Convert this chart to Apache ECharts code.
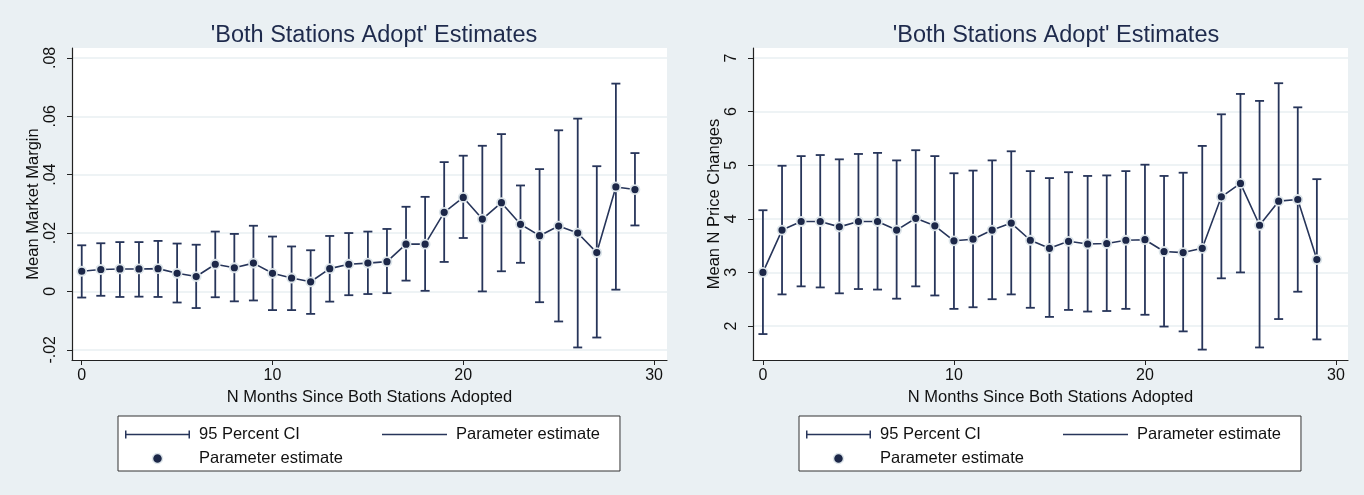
<!DOCTYPE html>
<html>
<head>
<meta charset="utf-8">
<script src="https://cdn.jsdelivr.net/npm/echarts@6/dist/echarts.min.js"></script>
<style>
html,body{margin:0;padding:0;background:#eaf0f3;}
#c{width:1364px;height:495px;}
</style>
</head>
<body>
<div id="c"></div>
<script>
// ---- data ----
const months = [0,1,2,3,4,5,6,7,8,9,10,11,12,13,14,15,16,17,18,19,20,21,22,23,24,25,26,27,28,29];

const marginEst = [0.0069,0.0075,0.0077,0.0077,0.0078,0.0062,0.0051,0.0093,0.0081,0.0097,0.0062,0.0046,0.0033,0.0078,0.0093,0.0097,0.0102,0.0162,0.0162,0.0271,0.0322,0.0248,0.0304,0.0230,0.0191,0.0224,0.0200,0.0133,0.0358,0.0349];
const marginLow = [-0.0021,-0.0015,-0.0019,-0.0018,-0.0019,-0.0038,-0.0057,-0.0020,-0.0034,-0.0031,-0.0064,-0.0064,-0.0077,-0.0035,-0.0013,-0.0009,-0.0006,0.0037,0.0002,0.0101,0.0183,0.0000,0.0069,0.0098,-0.0037,-0.0103,-0.0192,-0.0158,0.0006,0.0226];
const marginHigh = [0.0158,0.0165,0.0169,0.0169,0.0173,0.0164,0.0160,0.0205,0.0197,0.0225,0.0188,0.0154,0.0141,0.0190,0.0200,0.0205,0.0214,0.0290,0.0324,0.0443,0.0465,0.0499,0.0539,0.0363,0.0419,0.0552,0.0592,0.0429,0.0712,0.0474];

const priceEst = [3.00,3.79,3.95,3.95,3.85,3.95,3.95,3.79,4.01,3.87,3.59,3.62,3.79,3.92,3.60,3.45,3.58,3.53,3.54,3.60,3.61,3.39,3.37,3.45,4.41,4.66,3.88,4.33,4.36,3.24];
const priceLow = [1.85,2.59,2.74,2.72,2.61,2.69,2.68,2.51,2.74,2.57,2.32,2.35,2.50,2.59,2.34,2.17,2.30,2.27,2.28,2.32,2.21,1.99,1.90,1.56,2.89,3.00,1.60,2.13,2.64,1.75];
const priceHigh = [4.16,4.99,5.17,5.19,5.11,5.21,5.23,5.09,5.28,5.17,4.85,4.90,5.09,5.26,4.89,4.76,4.87,4.80,4.81,4.89,5.01,4.80,4.86,5.36,5.95,6.33,6.20,6.53,6.08,4.74];

const xTicks = [0,10,20,30];
const marginTicks = [-0.02,0,0.02,0.04,0.06,0.08];
const marginTickLabels = ['-.02','0','.02','.04','.06','.08'];
const priceTicks = [2,3,4,5,6,7];
const priceTickLabels = ['2','3','4','5','6','7'];

const titleText = "'Both Stations Adopt' Estimates";
const xName = 'N Months Since Both Stations Adopted';
const yNameLeft = 'Mean Market Margin';
const yNameRight = 'Mean N Price Changes';
const ciName = '95 Percent CI';
const lineName = 'Parameter estimate';
const dotName = 'Parameter estimate ';

// ---- styling ----
const NAVY = '#27355a';
const DOT = '#1c2748';
const FONT = '"Liberation Sans", Arial, Helvetica, sans-serif';

function ciRender(params, api) {
  const x = api.value(0), lo = api.value(1), hi = api.value(2);
  const a = api.coord([x, lo]), b = api.coord([x, hi]);
  const cw = 4.5;
  const st = {stroke: NAVY, lineWidth: 1.8};
  return {type:'group', children:[
    {type:'line', shape:{x1:a[0], y1:a[1], x2:b[0], y2:b[1]}, style:st},
    {type:'line', shape:{x1:b[0]-cw, y1:b[1], x2:b[0]+cw, y2:b[1]}, style:st},
    {type:'line', shape:{x1:a[0]-cw, y1:a[1], x2:a[0]+cw, y2:a[1]}, style:st}
  ]};
}

function zip2(xs, ys) { return xs.map((x,i)=>[x, ys[i]]); }
function zip3(xs, ls, hs) { return xs.map((x,i)=>[x, ls[i], hs[i]]); }

const ciIcon = 'path://M0,4.25 L65,4.25 L65,5.75 L0,5.75 Z M0,1 L1.5,1 L1.5,9 L0,9 Z M63.5,1 L65,1 L65,9 L63.5,9 Z M0,0 L0.01,0 L0.01,0.01 Z M0,10 L0.01,10 L0.01,9.99 Z';
const lineIcon = 'path://M0,4.25 L65,4.25 L65,5.75 L0,5.75 Z M0,0 L0.01,0 L0.01,0.01 Z M0,10 L0.01,10 L0.01,9.99 Z';

function makeLegend(idx, left) {
  return {
    left: left, top: 416,
    orient: 'horizontal',
    width: 490,
    padding: [10, 20, 4, 7],
    itemGap: 7,
    itemWidth: 65, itemHeight: 10,
    backgroundColor: '#ffffff',
    borderColor: '#333333', borderWidth: 1, borderRadius: 0,
    selectedMode: false,
    textStyle: {fontFamily: FONT, fontSize: 16.5, color: '#111', lineHeight: 17, padding: [0,0,0,4]},
    data: [
      {name: ciName, icon: ciIcon, itemStyle:{color: NAVY, borderWidth:0}, textStyle:{width: 176, lineHeight: 17, overflow: 'truncate', padding:[0,0,0,4]}},
      {name: lineName, icon: lineIcon, itemStyle:{color: NAVY, borderWidth:0}},
      {name: dotName, icon: 'circle', itemStyle:{color: DOT, borderColor:'#dde5ea', borderWidth:1.5}}
    ]
  };
}

function makeX(idx, min, max) {
  return {
    type:'value', gridIndex: idx, min: min, max: max,
    name: xName, nameLocation:'middle', nameGap: 29,
    nameTextStyle:{fontFamily: FONT, fontSize: 16.5, color:'#111'},
    axisLine:{show:true, onZero:false, lineStyle:{color:'#222', width:1.2}},
    axisTick:{show:true, length:5, customValues: xTicks, lineStyle:{color:'#222'}},
    axisLabel:{customValues: xTicks, fontFamily: FONT, fontSize: 16, color:'#111', margin: 8},
    splitLine:{show:false}
  };
}

function makeY(idx, min, max, ticks, labels, name) {
  return {
    type:'value', gridIndex: idx, min: min, max: max,
    name: name, nameLocation:'middle', nameGap: 28, nameRotate: 90,
    nameTextStyle:{fontFamily: FONT, fontSize: 16.5, color:'#111'},
    axisLine:{show:true, onZero:false, lineStyle:{color:'#222', width:1.2}},
    axisTick:{show:true, length:5, customValues: ticks, lineStyle:{color:'#222'}},
    axisLabel:{customValues: ticks, rotate: 90, fontFamily: FONT, fontSize: 16, color:'#111', margin: 13,
      formatter: function(v){ const i = ticks.findIndex(t=>Math.abs(t-v)<1e-9); return i>=0 ? labels[i] : ''; }},
    splitLine:{show:true, customValues: ticks, lineStyle:{color:'#e9eff2', width:1.5}}
  };
}

function seriesFor(idx, est, lo, hi) {
  return [
    {name: ciName, type:'custom', xAxisIndex: idx, yAxisIndex: idx, renderItem: ciRender,
      itemStyle:{color: NAVY}, encode:{x:0, y:[1,2]}, data: zip3(months, lo, hi), z: 2, silent: true},
    {name: lineName, type:'line', xAxisIndex: idx, yAxisIndex: idx, data: zip2(months, est),
      symbol:'none', lineStyle:{color: NAVY, width:1.6}, itemStyle:{color: NAVY}, z: 3, silent: true},
    {name: dotName, type:'scatter', xAxisIndex: idx, yAxisIndex: idx, data: zip2(months, est),
      symbol:'circle', symbolSize: 9, itemStyle:{color: DOT, borderColor:'#dde5ea', borderWidth:1.8, opacity:1}, z: 4, silent: true}
  ];
}

const chart = echarts.init(document.getElementById('c'), null, {renderer:'canvas'});
chart.setOption({
  backgroundColor: '#eaf0f3',
  animation: false,
  title: [
    {text: titleText, left: 369, top: 19, textAlign:'center', textStyle:{fontFamily: FONT, fontSize: 23.5, fontWeight:'normal', color:'#1e2a4c'}},
    {text: titleText, left: 1051, top: 19, textAlign:'center', textStyle:{fontFamily: FONT, fontSize: 23.5, fontWeight:'normal', color:'#1e2a4c'}}
  ],
  grid: [
    {left: 72, right: 697, top: 48, bottom: 135, show: true, backgroundColor:'#ffffff', borderWidth: 0},
    {left: 753, right: 16, top: 48, bottom: 135, show: true, backgroundColor:'#ffffff', borderWidth: 0}
  ],
  xAxis: [makeX(0, -0.51, 30.68), makeX(1, -0.52, 30.63)],
  yAxis: [
    makeY(0, -0.0235, 0.0834, marginTicks, marginTickLabels, yNameLeft),
    makeY(1, 1.366, 7.187, priceTicks, priceTickLabels, yNameRight)
  ],
  legend: [makeLegend(0, 118), makeLegend(1, 799)],
  series: [].concat(seriesFor(0, marginEst, marginLow, marginHigh), seriesFor(1, priceEst, priceLow, priceHigh))
});
</script>
</body>
</html>
